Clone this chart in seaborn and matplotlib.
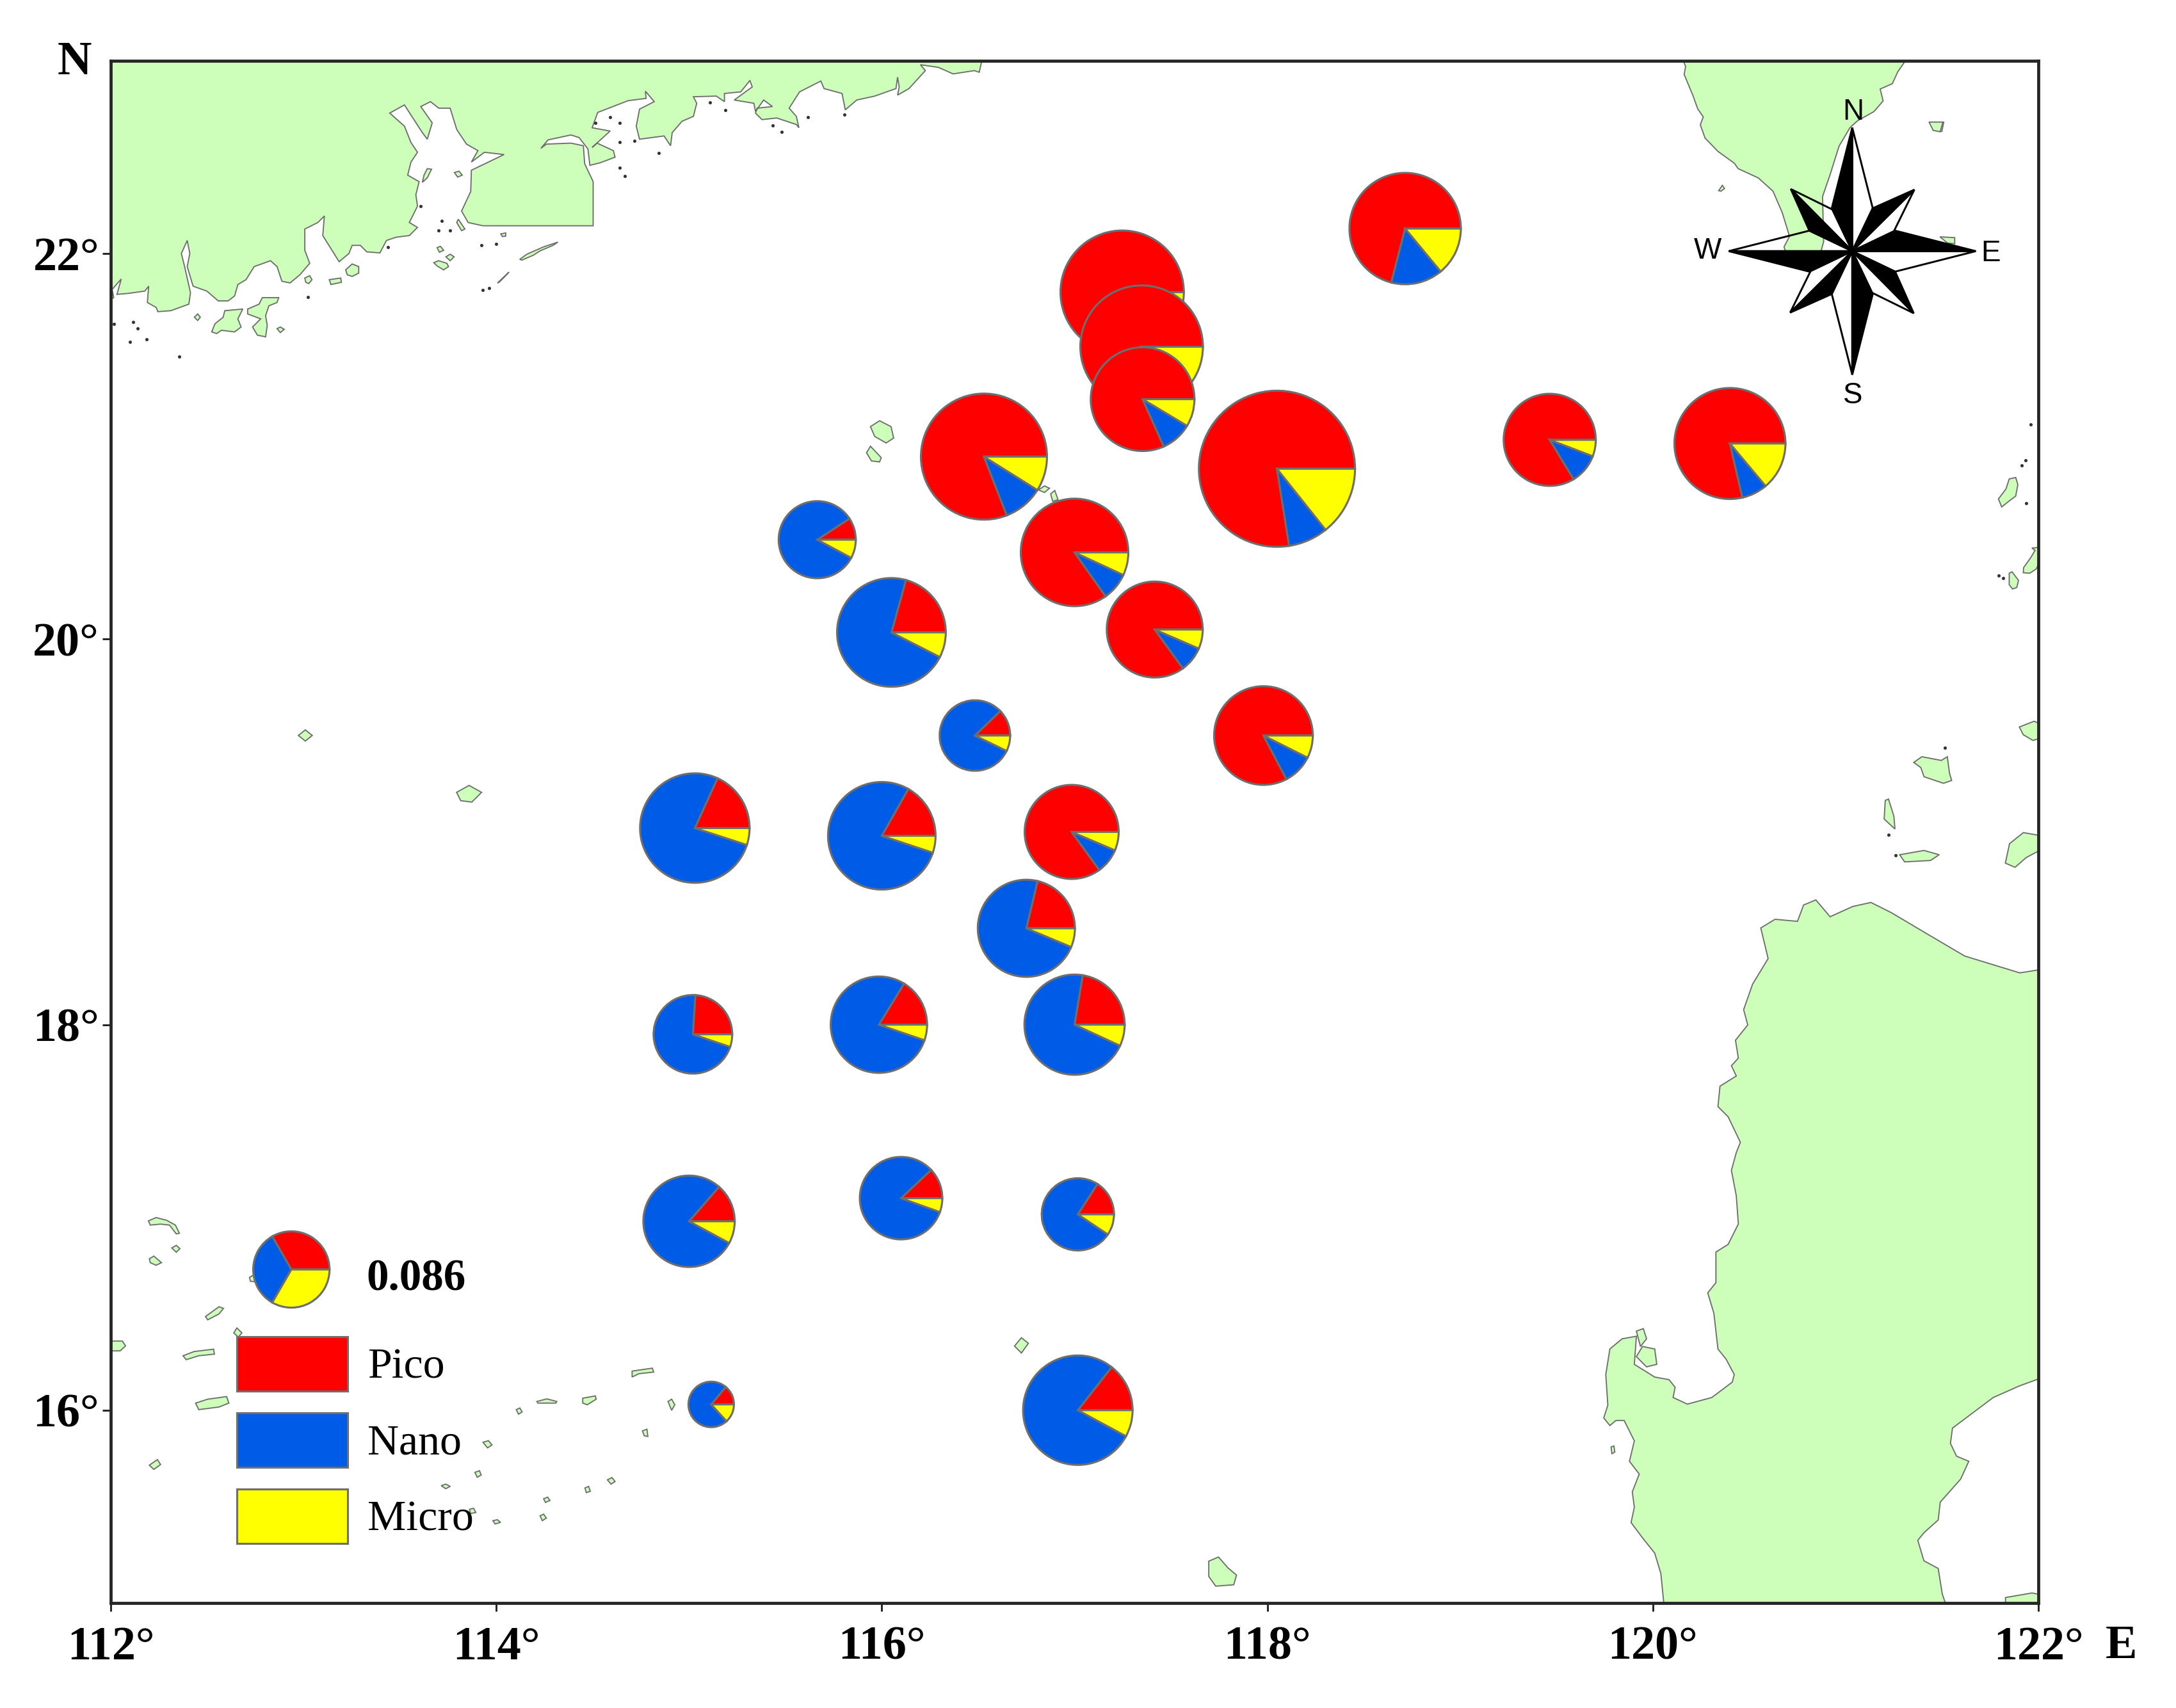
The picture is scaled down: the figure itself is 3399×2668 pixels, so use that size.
#!/usr/bin/env python3
"""Size-fractionated pie map over the northern South China Sea."""

import matplotlib

matplotlib.use("Agg")
import matplotlib.patches as mpatches
import matplotlib.pyplot as plt
import numpy as np
import seaborn as sns

# Station values: position, pie radius (degrees), pico / nano / micro shares
STATION_LON = [115.665, 116.05, 117.0, 117.416, 116.483, 115.03, 116.0, 116.985, 116.75,
               115.02, 115.985, 117.0, 115.0, 116.1, 117.017, 115.115, 117.017,
               118.05, 119.465, 120.40, 117.98, 118.715, 116.53, 117.247, 117.348, 117.353]
STATION_LAT = [20.516, 20.035, 20.45, 20.05, 19.5, 19.02, 18.98, 19.0, 18.5,
               17.95, 18.0, 18.0, 16.98, 17.1, 17.016, 16.03, 16.0,
               20.884, 21.034, 21.015, 19.5, 22.13, 20.947, 21.8, 21.517, 21.245]
STATION_SIZE = [0.2, 0.282, 0.279, 0.249, 0.183, 0.284, 0.279, 0.244, 0.252,
                0.204, 0.25, 0.26, 0.237, 0.214, 0.1875, 0.118, 0.284,
                0.405, 0.239, 0.288, 0.256, 0.289, 0.327, 0.32, 0.318, 0.269]
PICO = [0.092, 0.207, 0.848, 0.85, 0.122, 0.182, 0.168, 0.85, 0.213,
        0.24, 0.1625, 0.224, 0.136, 0.12, 0.159, 0.139, 0.144,
        0.775, 0.837, 0.786, 0.827, 0.71, 0.809, 0.80, 0.78, 0.817]
NANO = [0.83, 0.718, 0.083, 0.085, 0.806, 0.768, 0.781, 0.086, 0.724,
        0.708, 0.785, 0.707, 0.785, 0.825, 0.747, 0.7285, 0.777,
        0.082, 0.105, 0.075, 0.099, 0.15, 0.102, 0.10, 0.10, 0.097]
MICRO = [0.078, 0.075, 0.069, 0.065, 0.072, 0.05, 0.051, 0.064, 0.063,
         0.052, 0.0525, 0.069, 0.079, 0.055, 0.094, 0.1325, 0.079,
         0.143, 0.058, 0.139, 0.074, 0.14, 0.089, 0.10, 0.12, 0.086]

KEY_LON, KEY_LAT, KEY_SIZE = 112.937, 16.73, 0.198
KEY_LABEL = "0.086"
CLASS_NAMES = ["Pico", "Nano", "Micro"]
LON_TICKS = [112, 114, 116, 118, 120, 122]
LAT_TICKS = [16, 18, 20, 22]

CHINA_WEST = [(-5, 745), (15, 735), (10, 710), (38, 678), (25, 725), (60, 722), (110, 715), (122, 700), (118, 750),
              (145, 765), (150, 778), (190, 775), (245, 755), (250, 720), (232, 640), (222, 600), (240, 560), (248, 600),
              (240, 640), (258, 700), (300, 715), (335, 745), (365, 745), (385, 730),
              (395, 695), (420, 680), (445, 640), (495, 622), (515, 640), (530, 685), (555, 690), (585, 665),
              (615, 630), (600, 590), (600, 525), (640, 505), (660, 485), (655, 545), (705, 625), (735, 600),
              (745, 575), (770, 575), (790, 595), (830, 598), (850, 560), (880, 550), (920, 545), (945, 520),
              (920, 505), (945, 455), (940, 420), (950, 380), (915, 360), (925, 320), (945, 290), (925, 260),
              (905, 210), (860, 170), (905, 145), (960, 230), (975, 250), (990, 200), (955, 150), (985, 135),
              (1010, 155), (1045, 155), (1065, 220), (1095, 265), (1130, 285), (1110, 320), (1150, 290),
              (1210, 297), (1110, 345), (1108, 410), (1080, 470), (1100, 505), (1145, 515)]
CHINA_EAST = [(248, 515), (248, 380), (222, 325), (218, 270), (180, 262), (105, 265), (88, 278), (110, 252),
              (180, 237), (205, 245), (232, 280), (238, 330), (270, 322), (315, 305), (310, 285), (260, 262),
              (245, 275), (300, 225), (245, 215), (262, 168), (355, 132), (410, 125), (408, 103), (435, 135),
              (390, 158), (380, 210), (390, 250), (465, 240), (485, 270), (490, 230), (520, 195), (555, 180),
              (565, 140), (555, 120), (625, 118), (650, 135), (650, 110), (700, 105), (728, 70), (735, 90),
              (680, 130), (740, 140), (745, 165), (770, 130), (797, 150), (750, 155), (745, 170), (765, 190),
              (810, 185), (870, 205), (878, 215), (870, 180), (848, 155), (880, 105), (945, 72), (955, 95),
              (1010, 110), (1020, 160), (1055, 130), (1110, 118), (1175, 95), (1180, 60), (1185, 90), (1180, 115),
              (1215, 95), (1265, 40), (1250, 22), (1305, 30), (1350, 50), (1415, 40), (1430, 45), (1440, 0)]
CHINA_ISLANDS = [
    [(315, 840), (325, 815), (350, 795), (355, 775), (410, 770), (395, 800), (405, 825), (385, 840), (345, 835), (330, 845)],
    [(425, 785), (425, 770), (460, 755), (470, 735), (520, 735), (515, 750), (490, 760), (480, 790), (485, 820), (480, 855), (455, 850), (440, 825), (465, 800)],
    [(600, 675), (615, 668), (622, 680), (612, 692), (603, 688)],
    [(725, 650), (745, 632), (765, 640), (765, 660), (745, 670), (730, 665)],
    [(675, 680), (710, 675), (712, 688), (680, 695)],
    [(262, 795), (272, 785), (280, 795), (272, 805)],
    [(515, 830), (525, 825), (537, 832), (525, 842)],
    [(995, 628), (1010, 622), (1035, 630), (1040, 640), (1025, 650), (1005, 638)],
    [(1032, 610), (1045, 602), (1057, 610), (1045, 622)],
    [(965, 360), (975, 340), (988, 342), (975, 368), (960, 382)],
    [(1058, 352), (1072, 348), (1082, 360), (1068, 366)],
    [(1258, 618), (1280, 602), (1330, 580), (1375, 565), (1360, 575), (1320, 592), (1300, 605), (1265, 620)],
    [(1190, 690), (1225, 657), (1215, 668), (1195, 688)],
    [(1200, 540), (1215, 537), (1215, 547), (1205, 548)],
    [(1070, 495), (1090, 525), (1080, 530), (1065, 505)],
    [(1005, 582), (1015, 578), (1025, 590), (1012, 596)],
]
TAIWAN = [(220, 90), (232, 130), (228, 160), (240, 200), (252, 240), (265, 290), (280, 320), (272, 350), (285, 400),
          (320, 450), (365, 495), (375, 515), (430, 550), (470, 600), (495, 680), (515, 770), (500, 810), (505, 830),
          (600, 830), (608, 790), (605, 620), (625, 540), (650, 430), (680, 360), (700, 335), (745, 300), (770, 260),
          (762, 215), (795, 195), (810, 150), (840, 90)]
TAIWAN_ISLANDS = [
    [(905, 342), (935, 340), (930, 375), (917, 372)],
    [(322, 598), (332, 578), (338, 590), (328, 600)],
    [(925, 772), (965, 775), (965, 798), (945, 795)],
]
LUZON = [(315, 1470), (305, 1390), (290, 1350), (260, 1320), (232, 1290), (240, 1260), (235, 1230), (252, 1195),
         (228, 1170), (240, 1130), (215, 1090), (195, 1090), (180, 1100), (165, 1085), (175, 1060), (170, 1000),
         (180, 950), (210, 930), (245, 925), (240, 980), (290, 1005), (325, 1010), (340, 1025), (335, 1045),
         (370, 1058), (430, 1045), (480, 1015), (485, 1000), (465, 970), (445, 950), (435, 880), (420, 840),
         (440, 820), (440, 760), (470, 745), (495, 705), (490, 650), (478, 600), (490, 565), (500, 545), (470, 495),
         (445, 475), (450, 435), (490, 415), (478, 395), (495, 380), (488, 345), (518, 315), (508, 285), (530, 235),
         (568, 185), (550, 125), (585, 108), (640, 112), (655, 80), (685, 70), (720, 103), (775, 83), (820, 75),
         (870, 95), (965, 140), (1050, 180), (1185, 213), (1240, 206), (1240, 1006), (1185, 1022), (1120, 1045),
         (1020, 1105), (1015, 1135), (1030, 1160), (1060, 1170), (1040, 1205), (990, 1250), (985, 1285), (950, 1310),
         (935, 1325), (950, 1365), (985, 1380), (995, 1430), (1012, 1470)]
LUZON_ISLANDS = [
    [(1150, 1470), (1150, 1437), (1215, 1428), (1240, 1432), (1240, 1470)],
    [(245, 915), (262, 910), (270, 930), (255, 945)],
    [(260, 945), (290, 950), (295, 980), (270, 985), (245, 965)],
    [(183, 1142), (190, 1140), (192, 1152), (185, 1155)],
]
SPRATLY = [
    [(188, 112), (205, 102), (228, 110), (248, 125), (257, 150), (250, 152), (235, 125), (215, 122), (192, 125)],
    [(240, 195), (250, 187), (258, 197), (250, 208)],
    [(190, 228), (200, 220), (217, 240), (205, 248), (192, 240)],
    [(413, 285), (422, 278), (425, 298), (415, 297)],
    [(315, 405), (345, 375), (355, 380), (345, 397), (320, 415)],
    [(378, 455), (385, 440), (396, 455), (388, 468)],
    [(90, 480), (130, 480), (137, 495), (125, 510), (90, 510)],
    [(265, 525), (290, 512), (333, 505), (335, 520), (300, 525), (272, 537)],
    [(293, 670), (320, 658), (362, 650), (367, 670), (345, 682), (300, 690)],
    [(190, 860), (208, 843), (215, 858), (200, 873)],
    [(1053, 665), (1075, 657), (1097, 665), (1095, 670), (1055, 670)],
    [(1155, 655), (1183, 648), (1185, 658), (1165, 675), (1155, 670)],
    [(1007, 690), (1015, 685), (1020, 697), (1012, 704)],
    [(1265, 572), (1310, 563), (1313, 575), (1280, 580), (1265, 590)],
    [(1345, 665), (1353, 658), (1360, 675), (1353, 692)],
    [(1288, 755), (1298, 750), (1300, 772), (1292, 770)],
    [(933, 790), (945, 785), (953, 798), (943, 807)],
    [(915, 882), (925, 877), (929, 890), (920, 897)],
    [(840, 923), (850, 918), (860, 925), (850, 932)],
    [(903, 995), (912, 992), (917, 1005), (905, 1008)],
    [(955, 1030), (965, 1027), (972, 1035), (960, 1040)],
    [(1160, 930), (1168, 925), (1172, 940), (1163, 944)],
    [(1210, 905), (1220, 898), (1227, 910), (1218, 918)],
    [(1068, 963), (1077, 958), (1082, 968), (1072, 974)],
    [(1060, 1015), (1068, 1010), (1074, 1022), (1065, 1030)],
]
EAST_ISLANDS = [
    [(955, 290), (990, 255), (1005, 220), (1035, 215), (1045, 240), (1035, 280), (1000, 300), (970, 318)],
    [(1072, 530), (1105, 495), (1125, 470), (1110, 462), (1160, 458), (1160, 490), (1130, 535), (1100, 550), (1070, 548)],
    [(1005, 550), (1018, 545), (1048, 575), (1040, 600), (1020, 605), (1005, 590)],
    [(1052, 1088), (1120, 1068), (1160, 1080), (1160, 1125), (1115, 1135), (1070, 1115)],
    [(562, 1212), (600, 1192), (690, 1205), (718, 1192), (728, 1250), (738, 1275), (700, 1285), (610, 1262), (595, 1230)],
    [(430, 1345), (445, 1340), (470, 1400), (475, 1445), (425, 1410)],
    [(497, 1535), (610, 1520), (680, 1535), (640, 1555), (520, 1560)],
]
OTHER_ISLANDS = [
    [(1445, 622), (1448, 608), (1458, 600), (1475, 603), (1475, 610), (1460, 618), (1452, 625)],
    [(215, 530), (220, 526), (225, 530), (220, 534)],
    [(329, 571), (338, 566), (347, 571), (340, 578), (332, 577)],
    [(871, 1125), (878, 1122), (885, 1130), (891, 1135), (889, 1142), (876, 1143), (871, 1136)],
    [(731, 970), (736, 964), (741, 968), (736, 975)],
    [(1390, 88), (1400, 88), (1398, 95), (1393, 94)],
]
PARACEL = [
    [(1097, 1130), (1125, 1112), (1160, 1130), (1168, 1165), (1145, 1180), (1110, 1160)],
    [(1085, 1210), (1097, 1190), (1130, 1225), (1125, 1238), (1100, 1235)],
]
PARACEL_SMALL = [
    [(505, 1010), (520, 998), (532, 1005), (520, 1018)],
    [(535, 1022), (545, 1012), (553, 1040), (540, 1045)],
]
SPECKS_Z9 = [(75, 810), (88, 830), (115, 863), (65, 870), (215, 915), (15, 815), (1045, 530), (1165, 705), (1145, 712),
             (1020, 500), (1010, 530), (1140, 575), (1185, 570), (855, 580), (610, 733), (955, 455)]
SPECKS_Z10 = [(448, 292), (330, 258), (375, 255), (300, 183), (255, 200), (330, 200), (605, 138), (653, 160),
              (905, 182), (825, 227), (798, 208), (1018, 175), (345, 362), (330, 338)]
SPECKS_Z11 = [(1105, 30), (1062, 172), (1080, 155), (1085, 305), (708, 1160), (445, 1465), (478, 1537), (955, 557), (978, 568)]

# crop origin and scale of each digitised view
Z9 = (170, 90, 1.96, 1.96)
Z10 = (800, 90, 1.96, 1.96)
Z2 = (2500, 50, 1.744, 2.412)
Z3 = (2400, 1350, 1.5696, 1.2544)
Z4 = (100, 1850, 1.4255, 1.96)
Z5 = (1300, 250, 1.568, 1.96)
Z11 = (2800, 650, 2.969, 2.24)
WHOLE = (0, 0, 0.4613, 0.4613)

PX_PER_DEG = 301.1
LEFT_PX, BOTTOM_PX = 173, 2504
LAND_COLOR = "#CEFFBA"
EDGE_GRAY = "#6E6E6E"


def px_to_lonlat(x, y):
    return 112 + (np.asarray(x, float) - LEFT_PX) / PX_PER_DEG, 15 + (BOTTOM_PX - np.asarray(y, float)) / PX_PER_DEG


def trace(points, view):
    x0, y0, sx, sy = view
    arr = np.asarray(points, float)
    return px_to_lonlat(x0 + arr[:, 0] / sx, y0 + arr[:, 1] / sy)


def draw_land(ax, points, view):
    lon, lat = trace(points, view)
    ax.fill(lon, lat, facecolor=LAND_COLOR, edgecolor=EDGE_GRAY, linewidth=0.45, zorder=1)


def draw_compass(ax):
    # one arm pair, turned four times; black half sits on the counter-clockwise side
    cx, cy = 2893.3, 392.4
    main_tip, main_black, main_white = (0, 193), (-32, 67), (32, 67)
    diag_tip, diag_black, diag_white = (97, 96), (32, 67), (65, 31)
    for quarter in range(4):
        t = -quarter * np.pi / 2
        rot = np.array([[np.cos(t), -np.sin(t)], [np.sin(t), np.cos(t)]])
        for tip, black, white in [(diag_tip, diag_black, diag_white), (main_tip, main_black, main_white)]:
            for side, face in [(white, "none"), (black, "black")]:
                pts = rot @ np.array([(0, 0), tip, side], float).T
                lon, lat = px_to_lonlat(cx + pts[0], cy - pts[1])
                ax.fill(lon, lat, facecolor=face, edgecolor="black", linewidth=0.7, joinstyle="miter", zorder=6)
    for label, x, y in [("N", 2895, 187), ("S", 2894.5, 630), ("W", 2667, 404), ("E", 3110, 408)]:
        lon, lat = px_to_lonlat(x, y)
        ax.text(lon, lat, label, family="Liberation Sans", fontsize=11, color="black",
                ha="center", va="baseline", zorder=7)


def main():
    sns.set_theme(style="ticks")
    plt.rcParams["font.family"] = ["Liberation Serif", "DejaVu Serif"]
    plt.rcParams["text.color"] = "black"
    class_colors = sns.color_palette(["#FF0000", "#005CE6", "#FFFF00"])

    fig = plt.figure(figsize=(3399 / 300, 2668 / 300), dpi=300)
    ax = fig.add_axes([LEFT_PX / 3399, (2668 - BOTTOM_PX) / 2668, 3011 / 3399, 2409 / 2668])

    # China coast is one polygon, closed round the outside of the frame
    west_lon, west_lat = trace(CHINA_WEST, Z9)
    east_lon, east_lat = trace(CHINA_EAST, Z10)
    ax.fill(
        np.r_[west_lon, east_lon, 111.9, 111.9],
        np.r_[west_lat, east_lat, 23.1, west_lat[0]],
        facecolor=LAND_COLOR, edgecolor=EDGE_GRAY, linewidth=0.45, zorder=1,
    )
    draw_land(ax, TAIWAN, Z2)
    draw_land(ax, LUZON, Z3)
    for pts in CHINA_ISLANDS:
        draw_land(ax, pts, Z9)
    for pts in TAIWAN_ISLANDS:
        draw_land(ax, pts, Z2)
    for pts in LUZON_ISLANDS:
        draw_land(ax, pts, Z3)
    for pts in SPRATLY:
        draw_land(ax, pts, Z4)
    for pts in EAST_ISLANDS:
        draw_land(ax, pts, Z11)
    for pts in OTHER_ISLANDS:
        draw_land(ax, pts, WHOLE)
    for pts in PARACEL:
        draw_land(ax, pts, Z10)
    for pts in PARACEL_SMALL:
        draw_land(ax, pts, Z5)

    # tiny rocks too small to outline
    speck_lon, speck_lat = zip(trace(SPECKS_Z9, Z9), trace(SPECKS_Z10, Z10), trace(SPECKS_Z11, Z11))
    sns.scatterplot(x=np.concatenate(speck_lon), y=np.concatenate(speck_lat), ax=ax, color="#333333",
                    s=1.5, linewidth=0, legend=False, zorder=1.5)

    wedge_style = {"edgecolor": EDGE_GRAY, "linewidth": 0.75}
    for lon, lat, size, pico, nano, micro in zip(STATION_LON, STATION_LAT, STATION_SIZE, PICO, NANO, MICRO):
        ax.pie([pico, nano, micro], colors=class_colors, center=(lon, lat), radius=size, startangle=0,
               wedgeprops=wedge_style, frame=True, normalize=True)
    ax.pie([1, 1, 1], colors=class_colors, center=(KEY_LON, KEY_LAT), radius=KEY_SIZE, startangle=0,
           wedgeprops=wedge_style, frame=True, normalize=True)

    draw_compass(ax)

    ax.set_xlim(112, 122)
    ax.set_ylim(15, 23)
    ax.set_aspect("equal")
    ax.set_xticks(LON_TICKS)
    ax.set_xticklabels([f"{v}°" for v in LON_TICKS])
    ax.set_yticks(LAT_TICKS)
    ax.set_yticklabels([f"{v}°" for v in LAT_TICKS])
    ax.tick_params(axis="x", length=3.1, width=0.7, pad=5.5, color="#222222")
    ax.tick_params(axis="y", length=3.1, width=0.7, pad=1.2, color="#222222")
    for label in ax.get_xticklabels() + ax.get_yticklabels():
        label.set_fontsize(17.8)
        label.set_fontweight("bold")
        label.set_color("black")
    sns.despine(ax=ax, top=False, right=False)
    for spine in ax.spines.values():
        spine.set_color("#262626")
        spine.set_linewidth(1.15)

    handles = [mpatches.Patch(facecolor=c, edgecolor=EDGE_GRAY, linewidth=0.75, label=n)
               for c, n in zip(class_colors, CLASS_NAMES)]
    ax.legend(handles=handles, loc="upper left", bbox_to_anchor=(0.0654, 0.1727), bbox_transform=ax.transAxes,
              frameon=False, fontsize=16.3, handlelength=2.55, handleheight=1.55, labelspacing=0.5,
              handletextpad=0.45, borderpad=0, borderaxespad=0, labelcolor="black")

    key_lon, key_lat = px_to_lonlat(572, 2016)
    ax.text(key_lon, key_lat, KEY_LABEL, fontsize=16.6, fontweight="bold", color="black", va="baseline", zorder=7)

    fig.text(116.5 / 3399, 1 - 116 / 2668, "N", fontsize=17.8, fontweight="bold", color="black",
             ha="center", va="baseline")
    fig.text(3314 / 3399, 1 - 2590 / 2668, "E", fontsize=17.8, fontweight="bold", color="black",
             ha="center", va="baseline")

    fig.savefig("out.png", dpi=300, facecolor="white")
    plt.close(fig)


if __name__ == "__main__":
    main()
